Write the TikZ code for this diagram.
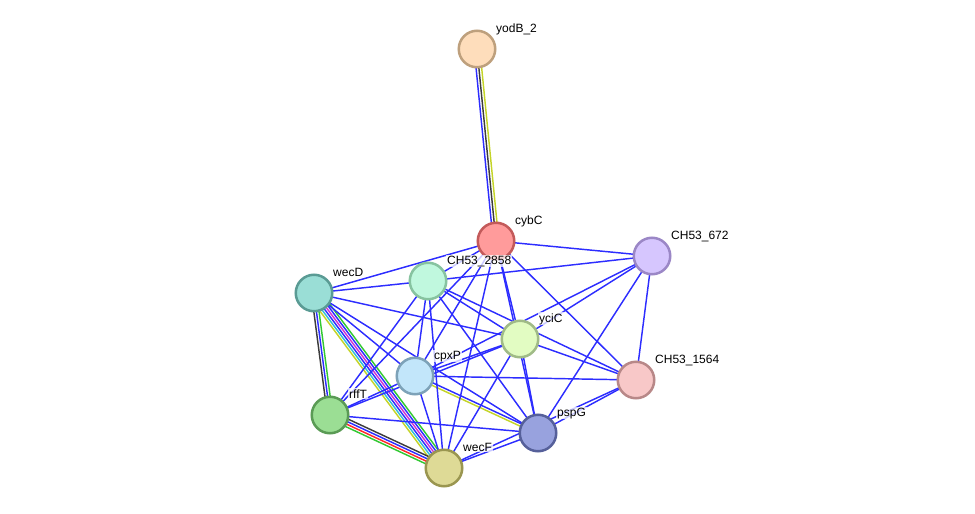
\documentclass[tikz,border=0pt]{standalone}
\usepackage{fontspec}
\setmainfont{Liberation Sans}
\usetikzlibrary{calc,backgrounds}
\definecolor{eblue}{RGB}{45,45,255}
\definecolor{eyel}{RGB}{196,212,40}
\definecolor{ecyan}{RGB}{50,190,215}
\definecolor{emag}{RGB}{210,50,210}
\definecolor{egreen}{RGB}{50,200,50}
\definecolor{ered}{RGB}{255,40,40}
\definecolor{eblack}{RGB}{60,60,60}
\newcommand\pedge[4]{\draw[edge,#4] ($(#1.center)!#3!90:(#2.center)$) -- ($(#2.center)!#3!-90:(#1.center)$);}
\tikzset{
  prot/.style={circle,minimum size=36.5pt,inner sep=0pt,line width=2.5pt},
  lab/.style={font=\fontsize{12}{14}\selectfont,anchor=base west,fill=white,fill opacity=0.75,text opacity=1,inner sep=1pt},
  edge/.style={line width=1.45pt,eblue},
}
\begin{document}
\begin{tikzpicture}[x=1pt,y=-1pt]
\useasboundingbox (0,0) rectangle (975,514);
\node[prot,fill={rgb,255:red,254;green,221;blue,187},draw={rgb,255:red,190;green,160;blue,125}] (yodB) at (477,49) {};
\node[prot,fill={rgb,255:red,255;green,155;blue,155},draw={rgb,255:red,195;green,90;blue,90}] (C) at (496,241) {};
\node[prot,fill={rgb,255:red,214;green,198;blue,254},draw={rgb,255:red,155;green,135;blue,198}] (S6) at (652,256) {};
\node[prot,fill={rgb,255:red,154;green,222;blue,214},draw={rgb,255:red,90;green,155;blue,148}] (D) at (314,293) {};
\node[prot,fill={rgb,255:red,192;green,248;blue,222},draw={rgb,255:red,135;green,195;blue,160}] (S2) at (428,281) {};
\node[prot,fill={rgb,255:red,226;green,252;blue,194},draw={rgb,255:red,160;green,187;blue,135}] (Y) at (520,339) {};
\node[prot,fill={rgb,255:red,194;green,230;blue,250},draw={rgb,255:red,125;green,162;blue,184}] (P) at (415,376) {};
\node[prot,fill={rgb,255:red,248;green,200;blue,200},draw={rgb,255:red,184;green,136;blue,136}] (S1) at (636,380) {};
\node[prot,fill={rgb,255:red,155;green,222;blue,148},draw={rgb,255:red,90;green,155;blue,85}] (R) at (330,415) {};
\node[prot,fill={rgb,255:red,152;green,162;blue,222},draw={rgb,255:red,86;green,96;blue,154}] (G) at (538,433) {};
\node[prot,fill={rgb,255:red,222;green,218;blue,150},draw={rgb,255:red,154;green,150;blue,80}] (F) at (444,468) {};
\begin{scope}[on background layer]
% multi-evidence edges
\pedge{yodB}{C}{-2.8pt}{eblue}
\pedge{yodB}{C}{0pt}{eblack}
\pedge{yodB}{C}{2.8pt}{eyel}
\pedge{D}{R}{-2.6pt}{eblack}
\pedge{D}{R}{0pt}{eblue}
\pedge{D}{R}{2.6pt}{egreen}
\pedge{D}{F}{-6pt}{eyel}
\pedge{D}{F}{-3.6pt}{ecyan}
\pedge{D}{F}{-1.2pt}{eblue}
\pedge{D}{F}{1.2pt}{emag}
\pedge{D}{F}{3.6pt}{eblue}
\pedge{D}{F}{6pt}{egreen}
\pedge{R}{F}{3.9pt}{eblack}
\pedge{R}{F}{1.3pt}{eblue}
\pedge{R}{F}{-1.3pt}{ered}
\pedge{R}{F}{-3.9pt}{egreen}
\pedge{P}{G}{1.3pt}{eblue}
\pedge{P}{G}{-1.3pt}{eyel}
% single edges
\foreach \a/\b in {C/S6,C/D,C/S2,C/Y,C/P,C/S1,C/R,C/G,C/F,
  S6/S2,S6/Y,S6/P,S6/S1,S6/G,
  D/S2,D/Y,D/P,D/G,
  S2/Y,S2/P,S2/S1,S2/R,S2/G,S2/F,
  Y/P,Y/S1,Y/R,Y/G,Y/F,
  P/S1,P/R,P/F,
  S1/G,S1/F,R/G,G/F}
  \draw[edge] (\a.center) -- (\b.center);
\end{scope}
\node[lab] (lyodB) at (495,32) {yodB\_2};
\node[lab] (lC) at (514,224) {cybC};
\node[lab] (lS6) at (670,239) {CH53\_672};
\node[lab] (lD) at (332,276) {wecD};
\node[lab] (lS2) at (446,264) {CH53\_2858};
\node[lab] (lY) at (538,322) {yciC};
\node[lab] (lP) at (433,359) {cpxP};
\node[lab] (lS1) at (654,363) {CH53\_1564};
\node[lab] (lR) at (348,398) {rffT};
\node[lab] (lG) at (556,416) {pspG};
\node[lab] (lF) at (462,451) {wecF};
\end{tikzpicture}
\end{document}
